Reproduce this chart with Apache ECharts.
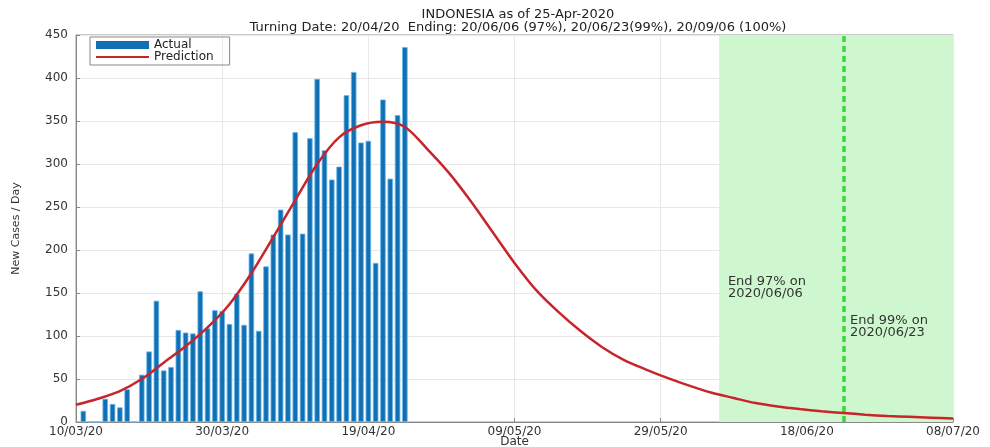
<!DOCTYPE html>
<html>
<head>
<meta charset="utf-8">
<title>INDONESIA as of 25-Apr-2020</title>
<script src="https://cdn.jsdelivr.net/npm/echarts@6/dist/echarts.min.js"></script>
<style>
  html, body { margin: 0; padding: 0; background: #fff; }
  #chart { width: 990px; height: 447px; }
</style>
</head>
<body>
<div id="chart"></div>
<script>
// x axis is "days since 10/03/20"
const tickLabels = ["10/03/20", "30/03/20", "19/04/20", "09/05/20", "29/05/20", "18/06/20", "08/07/20"];

// daily new cases, first entry is day 1 (11/03/20)
const actualCases = [13, 0, 0, 27, 21, 17, 38, 0, 55, 82, 141, 60, 64, 107, 104, 103, 152, 109, 130, 129,
  114, 149, 113, 196, 106, 181, 218, 247, 218, 337, 219, 330, 399, 316, 282, 297, 380, 407, 325, 327,
  185, 375, 283, 357, 436];

// prediction curve, one point every 3 days from day 0
const predDays = [0, 3, 6, 9, 12, 15, 18, 21, 24, 27, 30, 33, 36, 39, 42, 45, 48, 51, 54, 57,
  60, 63, 66, 69, 72, 75, 78, 81, 84, 87, 90, 93, 96, 99, 102, 105, 108, 111, 114, 117, 120];
const predCases = [20, 27, 36, 50, 69, 88, 110, 137, 173, 215, 258, 300, 331, 345, 349, 343, 318, 290, 257, 221,
  185, 153, 128, 106, 87, 72, 61, 51, 42, 34, 28, 22, 18, 15, 12.5, 10.5, 8.5, 7, 6, 5, 4];

const end97Day = 88;   // 2020/06/06
const end99Day = 105;  // 2020/06/23
const lastDay = 120;

const font = "DejaVu Sans, Liberation Sans, sans-serif";

const chart = echarts.init(document.getElementById("chart"));

const barData = actualCases.map((v, i) => [i + 1, v]);
const lineData = predDays.map((d, i) => [d, predCases[i]]);

const option = {
  animation: false,
  textStyle: { fontFamily: font },
  title: {
    text: "INDONESIA as of 25-Apr-2020",
    subtext: "Turning Date: 20/04/20  Ending: 20/06/06 (97%), 20/06/23(99%), 20/09/06 (100%)",
    left: 513,
    textAlign: "center",
    top: 3,
    itemGap: 0,
    textStyle: { fontSize: 13, lineHeight: 13, fontWeight: "normal", color: "#222", fontFamily: font },
    subtextStyle: { fontSize: 13, lineHeight: 13, color: "#222", fontFamily: font }
  },
  legend: {
    orient: "vertical",
    left: 90,
    top: 37,
    padding: [2, 16, 2, 5],
    itemGap: 0,
    itemWidth: 53,
    itemHeight: 8,
    borderColor: "#888",
    borderWidth: 1,
    textStyle: { fontSize: 12, lineHeight: 11, color: "#222", fontFamily: font },
    data: [
      { name: "Actual", icon: "rect", itemStyle: { borderWidth: 0 } },
      { name: "Prediction", itemStyle: { opacity: 0 } }
    ]
  },
  grid: {
    left: 76,
    right: 37,
    top: 35,
    bottom: 25,
    outerBoundsMode: "none",
    show: true,
    borderColor: "#999",
    borderWidth: 1
  },
  xAxis: {
    type: "value",
    min: 0,
    max: lastDay,
    interval: 20,
    name: "Date",
    nameLocation: "middle",
    nameGap: 14,
    nameMoveOverlap: false,
    nameTextStyle: { fontSize: 12, lineHeight: 12, color: "#333" },
    axisLine: { show: true, lineStyle: { color: "#888" } },
    axisTick: { show: true, inside: true, length: 4, lineStyle: { color: "#888" } },
    axisLabel: {
      fontSize: 12,
      lineHeight: 11,
      color: "#333",
      margin: 4,
      formatter: (v) => tickLabels[Math.round(v / 20)] || ""
    },
    splitLine: { show: true, lineStyle: { color: "#e8e8e8" } }
  },
  yAxis: {
    type: "value",
    min: 0,
    max: 450,
    interval: 50,
    name: "New Cases / Day",
    nameLocation: "middle",
    nameGap: 54,
    nameMoveOverlap: false,
    nameTextStyle: { fontSize: 11, color: "#333" },
    axisLine: { show: true, lineStyle: { color: "#888" } },
    axisTick: { show: true, inside: true, length: 4, lineStyle: { color: "#888" } },
    axisLabel: { fontSize: 12, color: "#333", margin: 8 },
    splitLine: { show: true, lineStyle: { color: "#e8e8e8" } }
  },
  series: [
    {
      name: "Actual",
      type: "bar",
      data: barData,
      barWidth: 5.5,
      itemStyle: { color: "#1170b4", borderColor: "#6ab8ea", borderWidth: 0.8 },
      markArea: {
        silent: true,
        itemStyle: { color: "#cff7cf" },
        data: [[{ xAxis: end97Day }, { xAxis: lastDay }]]
      }
    },
    {
      name: "Prediction",
      type: "line",
      data: lineData,
      smooth: 0.3,
      symbol: "none",
      lineStyle: { color: "#c8242b", width: 2.5 },
      itemStyle: { color: "#c8242b" },
      z: 5,
      markLine: {
        silent: true,
        symbol: "none",
        label: { show: false },
        lineStyle: { color: "#3ada3a", width: 3.5, type: [6, 4] },
        data: [{ xAxis: end99Day }]
      },
      markPoint: {
        silent: true,
        symbol: "circle",
        symbolSize: 0,
        label: {
          show: true,
          position: "right",
          distance: 0,
          fontSize: 13,
          lineHeight: 12,
          color: "#333",
          fontFamily: font
        },
        data: [
          { coord: [89.2, 156], value: "End 97% on\n2020/06/06" },
          { coord: [105.9, 111], value: "End 99% on\n2020/06/23" }
        ]
      }
    }
  ]
};

chart.setOption(option);
</script>
</body>
</html>
